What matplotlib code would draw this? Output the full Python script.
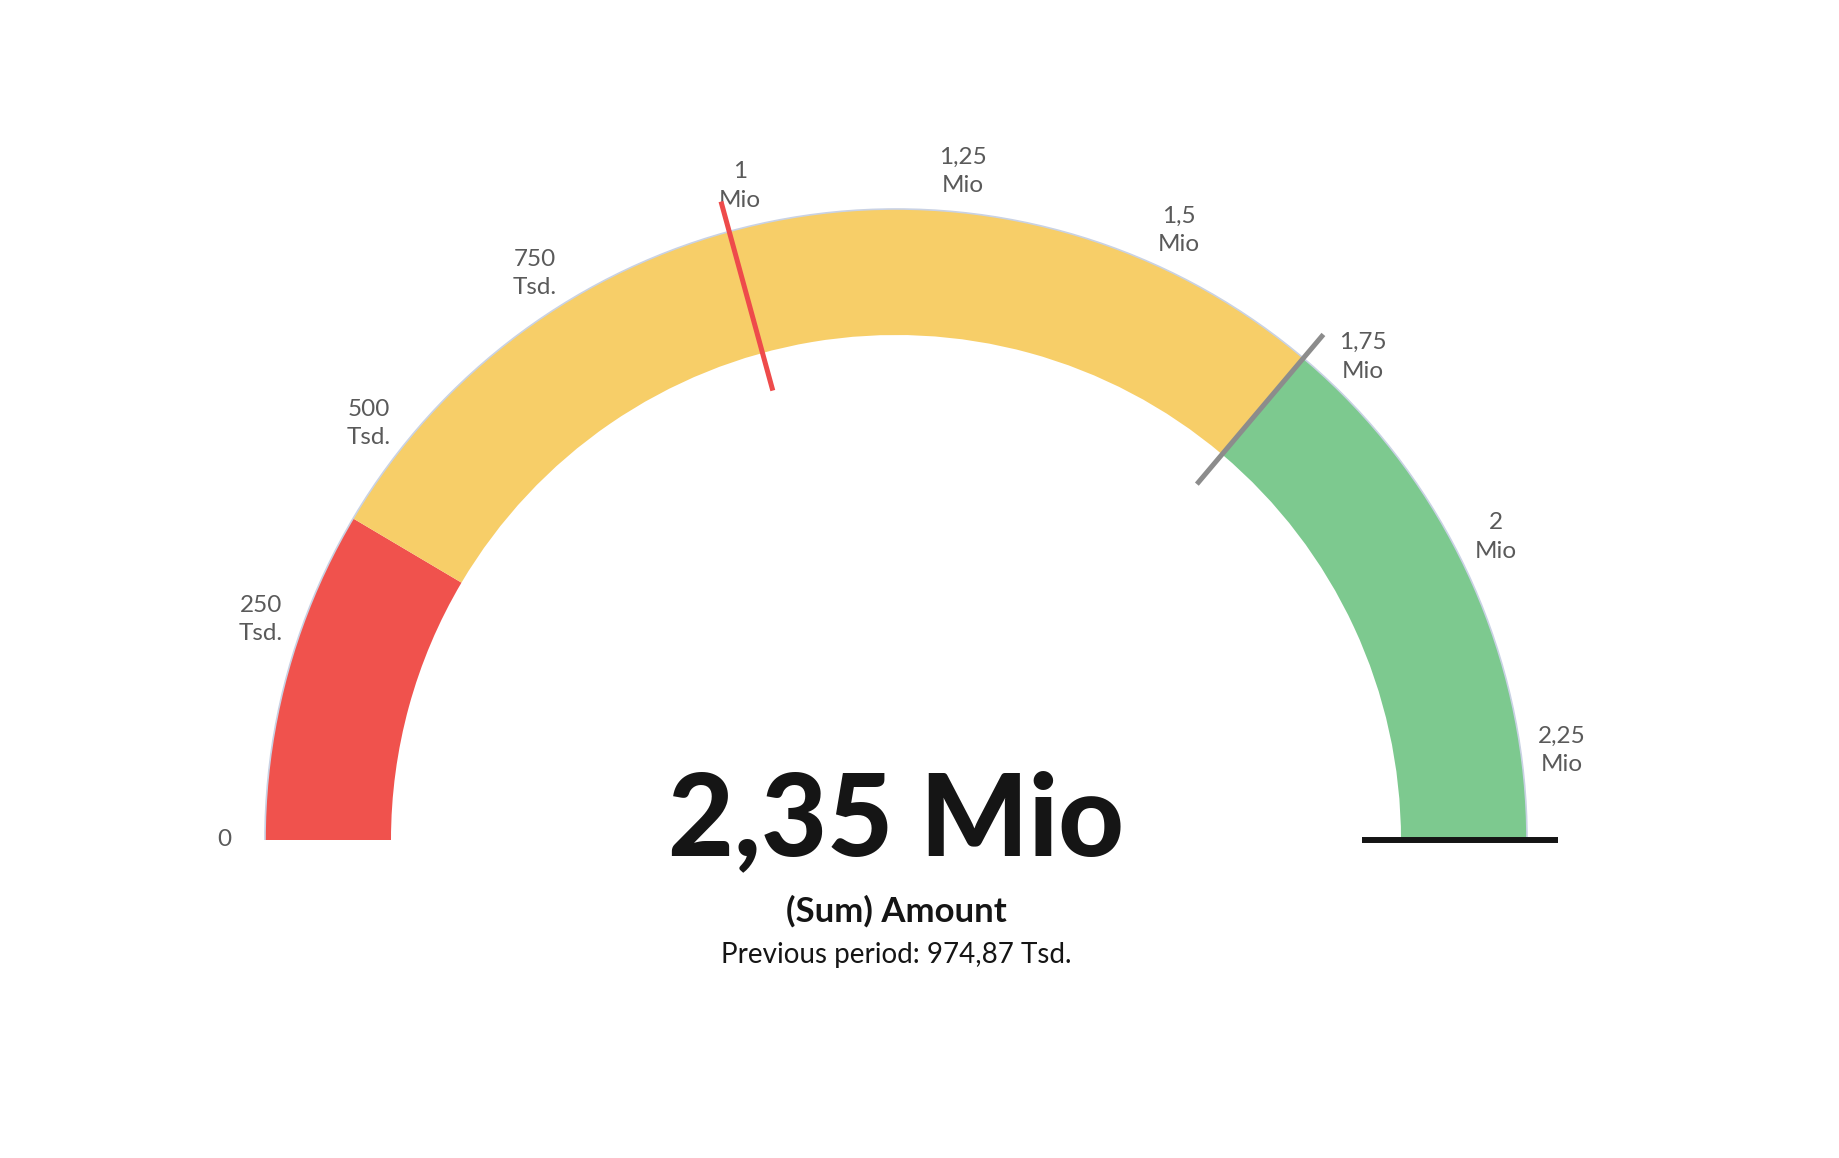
import numpy as np
import matplotlib
matplotlib.use('Agg')
import matplotlib.pyplot as plt
from matplotlib.patches import Wedge, Arc

# ---- data ----
gauge_min = 0.0
gauge_max = 2.35e6
band_edges = [0.0, 400e3, 1.7e6, 2.35e6]
band_colors = ['#F0524D', '#F7CE68', '#7DC98F']
tick_values = [0, 250e3, 500e3, 750e3, 1.0e6, 1.25e6, 1.5e6, 1.75e6, 2.0e6, 2.25e6]
tick_labels = ['0', '250\nTsd.', '500\nTsd.', '750\nTsd.', '1\nMio', '1,25\nMio',
               '1,5\nMio', '1,75\nMio', '2\nMio', '2,25\nMio']
current_value = 2.35e6
previous_value = 974.87e3
target_value = 1.7e6
value_label = '2,35 Mio'
measure_label = '(Sum) Amount'
previous_label = 'Previous period: 974,87 Tsd.'

# ---- layout ----
W, H = 1840, 1158
cx, cy = 896, 840          # gauge centre in pixels (from top-left)
R_out, R_in = 631, 505
R_lab = 672
needle_r = (466, 662)

plt.rcParams['font.family'] = ['Lato', 'DejaVu Sans']

fig = plt.figure(figsize=(W / 100, H / 100), dpi=100)
ax = fig.add_axes([0, 0, 1, 1])
ax.set_xlim(-cx, W - cx)
ax.set_ylim(-(H - cy), cy)
ax.set_aspect('equal')
ax.axis('off')


def ang(v):
    return 180.0 - 180.0 * (v - gauge_min) / (gauge_max - gauge_min)


for a, b, c in zip(band_edges[:-1], band_edges[1:], band_colors):
    ax.add_patch(Wedge((0, 0), R_out, ang(b), ang(a), width=R_out - R_in,
                       facecolor=c, edgecolor='none', zorder=2))

ax.add_patch(Arc((0, 0), 2 * R_out, 2 * R_out, theta1=0, theta2=180,
                 color='#c9d2e4', lw=1.2, zorder=2.5))

for v, lab in zip(tick_values, tick_labels):
    t = np.deg2rad(ang(v))
    ax.text(R_lab * np.cos(t), R_lab * np.sin(t), lab, ha='center', va='center',
            fontsize=17.5, color='#5a5a5a', linespacing=1.45, zorder=3)


def marker(v, color, lw):
    t = np.deg2rad(ang(v))
    rr = np.array(needle_r)
    ax.plot(rr * np.cos(t), rr * np.sin(t), color=color, lw=lw,
            solid_capstyle='butt', zorder=4)


marker(previous_value, '#EE4B4B', 3.6)
marker(target_value, '#8c8c8c', 3.6)
marker(current_value, '#151515', 4.3)

ax.text(0, -15, value_label, ha='center', va='baseline', fontsize=82,
        fontweight='black', color='#151515', zorder=5)
ax.text(0, -82, measure_label, ha='center', va='baseline', fontsize=25,
        fontweight='bold', color='#151515', zorder=5)
ax.text(0, -123, previous_label, ha='center', va='baseline', fontsize=20,
        color='#151515', zorder=5)

fig.savefig('out.png', dpi=100, facecolor='white')
